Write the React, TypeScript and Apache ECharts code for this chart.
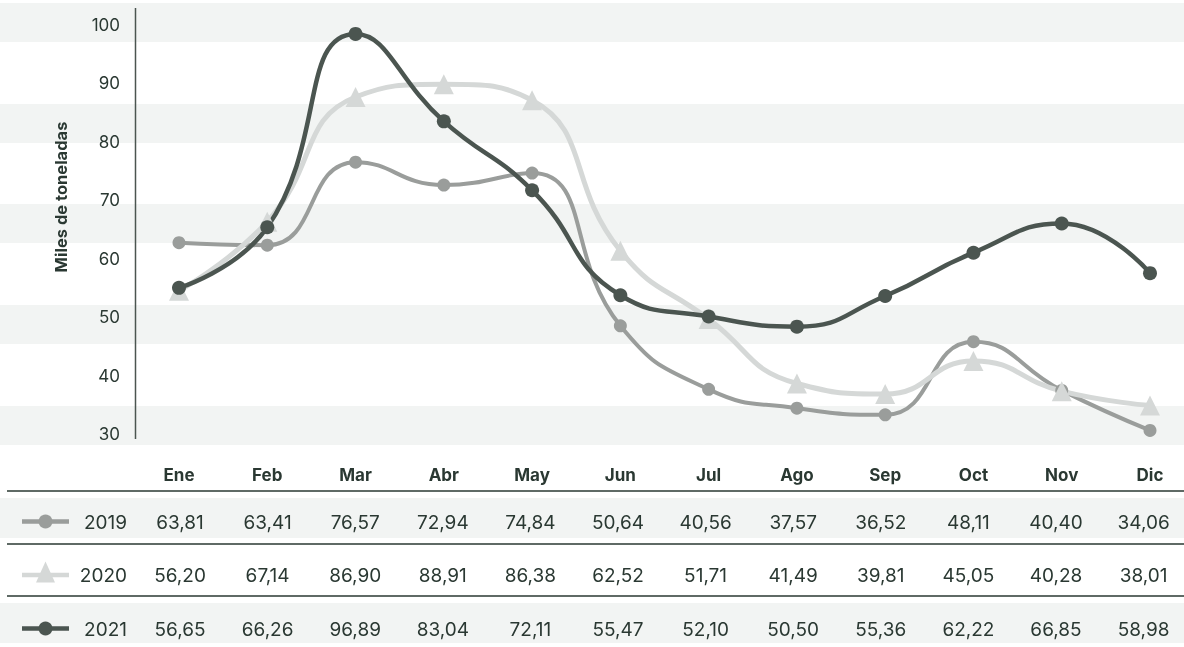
import React, { useEffect, useRef } from "react";
import * as echarts from "echarts";

const months = ["Ene", "Feb", "Mar", "Abr", "May", "Jun", "Jul", "Ago", "Sep", "Oct", "Nov", "Dic"];
const years = ["2019", "2020", "2021"];
const values2019 = [63.81, 63.41, 76.57, 72.94, 74.84, 50.64, 40.56, 37.57, 36.52, 48.11, 40.4, 34.06];
const values2020 = [56.2, 67.14, 86.9, 88.91, 86.38, 62.52, 51.71, 41.49, 39.81, 45.05, 40.28, 38.01];
const values2021 = [56.65, 66.26, 96.89, 83.04, 72.11, 55.47, 52.1, 50.5, 55.36, 62.22, 66.85, 58.98];
const yMin = 30;
const yMax = 100;
const yStep = 10;
const yTitle = "Miles de toneladas";

const TEXT = "#2a3832";
const C2019 = "#9a9d9b";
const C2020 = "#d5d8d7";
const C2021 = "#4b5550";
const STRIPE = "#f2f4f3";
const FONT = "Inter, Lato, sans-serif";

const fmt = (v: number) => v.toFixed(2).replace(".", ",");

export default function App() {
  const ref = useRef<HTMLDivElement>(null);
  useEffect(() => {
    if (!ref.current) return;
    const chart = echarts.init(ref.current, undefined, { renderer: "svg" });

    const graphic: any[] = [];
    [3, 104, 204, 305, 406].forEach((y) =>
      graphic.push({ type: "rect", z: -10, silent: true, shape: { x: 0, y, width: 1184, height: 39 }, style: { fill: STRIPE } })
    );
    [498, 603].forEach((y) =>
      graphic.push({ type: "rect", z: -10, silent: true, shape: { x: 0, y, width: 1184, height: 40 }, style: { fill: STRIPE } })
    );
    [491, 544, 596].forEach((y) =>
      graphic.push({ type: "line", silent: true, shape: { x1: 7, y1: y, x2: 1184, y2: y }, style: { stroke: TEXT, lineWidth: 1.5 } })
    );
    graphic.push({ type: "line", silent: true, shape: { x1: 135.5, y1: 8, x2: 135.5, y2: 439 }, style: { stroke: C2021, lineWidth: 1.5 } });
    graphic.push({
      type: "text",
      x: 61,
      y: 197,
      rotation: Math.PI / 2,
      style: { text: yTitle, fill: TEXT, fontFamily: FONT, fontWeight: "bold", fontSize: 16.5, align: "center", verticalAlign: "middle" },
    });

    const rowsY = [522, 575.5, 629];
    const rowData = [values2019, values2020, values2021];
    const rowColors = [C2019, C2020, C2021];
    rowData.forEach((arr, r) => {
      const cy = rowsY[r];
      graphic.push({ type: "line", shape: { x1: 22, y1: cy - 0.5, x2: 69, y2: cy - 0.5 }, style: { stroke: rowColors[r], lineWidth: 4.5 } });
      if (r === 1) {
        graphic.push({ type: "polygon", shape: { points: [[45.5, cy - 14], [36, cy + 7], [55, cy + 7]] }, style: { fill: rowColors[r] } });
      } else {
        graphic.push({ type: "circle", shape: { cx: 45.5, cy: cy - 0.5, r: 7 }, style: { fill: rowColors[r] } });
      }
      graphic.push({
        type: "text",
        x: 127,
        y: cy,
        style: { text: years[r], fill: TEXT, fontFamily: FONT, fontSize: 19, align: "right", verticalAlign: "middle" },
      });
      arr.forEach((v, i) => {
        graphic.push({
          type: "text",
          x: 180 + i * 87.6,
          y: cy,
          style: { text: fmt(v), fill: TEXT, fontFamily: FONT, fontSize: 19, align: "center", verticalAlign: "middle" },
        });
      });
    });

    const lineSeries = (name: string, data: number[], color: string, symbol: string, size: number, width: number) => ({
      type: "line",
      name,
      data,
      xAxisIndex: 0,
      yAxisIndex: 0,
      smooth: 0.5,
      clip: false,
      symbol,
      symbolSize: size,
      showAllSymbol: true,
      itemStyle: { color, opacity: 1 },
      lineStyle: { color, width },
      emphasis: { disabled: true },
    });

    chart.setOption({
      animation: false,
      textStyle: { fontFamily: FONT },
      grid: [
        { left: 179, width: 971, top: 14.3, height: 441.7 },
        { left: 135, width: 1000, top: 25, height: 409 },
      ],
      xAxis: [
        {
          type: "category",
          gridIndex: 0,
          data: months,
          boundaryGap: false,
          axisLine: { show: false },
          axisTick: { show: false },
          axisLabel: { color: TEXT, fontFamily: FONT, fontWeight: "bold", fontSize: 17, margin: 10 },
          splitLine: { show: false },
        },
        { type: "value", gridIndex: 1, show: false },
      ],
      yAxis: [
        { type: "value", gridIndex: 0, min: yMin, max: yMax, interval: yStep, show: false },
        {
          type: "value",
          gridIndex: 1,
          min: yMin,
          max: yMax,
          interval: yStep,
          axisLine: { show: false },
          axisTick: { show: false },
          splitLine: { show: false },
          axisLabel: { color: TEXT, fontFamily: FONT, fontSize: 17, margin: 15 },
        },
      ],
      series: [
        lineSeries(years[0], values2019, C2019, "circle", 13, 4),
        lineSeries(years[1], values2020, C2020, "triangle", 20, 5),
        lineSeries(years[2], values2021, C2021, "circle", 14, 4.5),
      ],
      graphic,
    });
    return () => chart.dispose();
  }, []);
  return <div ref={ref} style={{ position: "fixed", left: 0, top: 0, width: 1184, height: 647 }} />;
}
